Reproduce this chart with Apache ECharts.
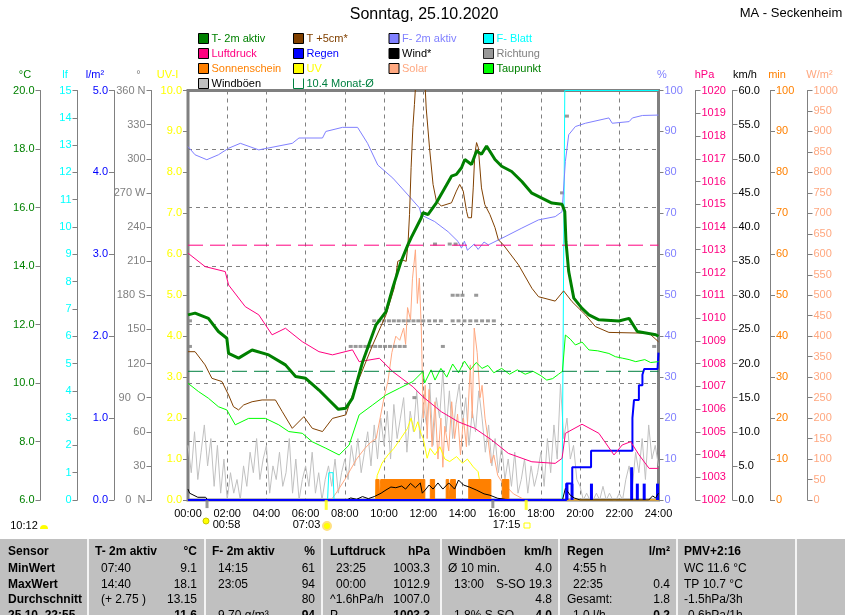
<!DOCTYPE html>
<html>
<head>
<meta charset="utf-8">
<script src="https://cdn.jsdelivr.net/npm/echarts@6.0.0/dist/echarts.min.js"></script>
<style>
html, body { margin: 0; padding: 0; background: #fff; }
#chart { width: 845px; height: 615px; }
</style>
</head>
<body>
<div id="chart"></div>
<script>
const t2m = [[0,12.33],[0.36,12.39],[1.04,12.21],[1.55,11.76],[1.98,11.53],[2.07,11.01],[2.58,10.85],[3.27,11.13],[4.12,10.96],[4.97,10.62],[5.49,10.22],[6.0,10.16],[6.68,9.76],[7.19,9.42],[7.67,9.1],[8.05,9.14],[8.39,9.48],[8.91,10.73],[9.59,11.99],[10.1,12.44],[10.45,13.27],[10.87,14.16],[11.22,14.73],[11.38,14.96],[11.9,15.65],[11.98,15.82],[12.24,15.76],[12.67,16.16],[13.1,16.67],[13.44,17.07],[13.69,17.13],[13.95,17.36],[14.12,17.64],[14.46,17.47],[14.72,17.93],[14.97,17.82],[15.23,18.1],[15.66,17.64],[16.0,17.41],[16.51,17.23],[17.03,16.89],[17.54,16.49],[18.05,16.32],[18.56,16.15],[19.08,16.11],[19.22,15.86],[19.28,14.83],[19.42,13.81],[19.68,12.9],[20.1,12.55],[20.45,12.33],[20.96,12.16],[21.98,12.12],[22.5,12.21],[22.92,11.76],[23.86,11.65],[24,11.6]];
const t5cm = [[0,11.07],[0.36,11.07],[0.87,10.62],[1.22,10.16],[1.73,10.05],[2.07,9.59],[2.32,9.19],[2.58,9.08],[2.84,9.25],[3.27,9.36],[3.78,9.42],[4.46,9.42],[4.81,9.02],[5.32,8.45],[5.91,8.85],[6.34,8.45],[6.86,8.34],[7.37,8.79],[8.05,8.91],[8.39,9.59],[9.42,11.3],[10.1,12.33],[10.53,13.27],[10.7,14.16],[10.87,14.22],[11.13,14.16],[11.22,14.73],[11.3,15.76],[11.38,17.36],[11.47,18.73],[11.55,19.52],[11.64,20.5],[12.07,20.5],[12.15,19.4],[12.32,18.04],[12.5,16.79],[12.67,16.22],[12.92,16.05],[13.44,16.16],[13.69,16.56],[13.86,16.79],[14.04,16.56],[14.21,15.87],[14.29,15.65],[14.46,15.65],[14.55,16.67],[14.63,17.82],[14.72,18.22],[14.81,18.04],[14.97,16.67],[15.14,16.1],[15.4,15.76],[15.66,15.31],[15.83,14.9],[16.09,14.72],[16.86,14.04],[17.54,13.24],[17.88,12.95],[18.73,12.8],[19.16,13.15],[19.59,12.78],[20.27,12.33],[20.78,11.93],[21.47,11.73],[23.52,11.7],[24,11.41]];
const humidity = [[0,86.3],[0.36,84.3],[0.96,83.1],[1.55,84.3],[2.07,85.9],[2.67,87.1],[3.61,85.5],[5.32,87.1],[5.66,88.4],[6.86,88.4],[7.03,90],[7.88,91],[8.65,91],[9.16,87.1],[9.68,81.8],[10.45,78.6],[11.22,74.5],[11.81,71.3],[11.9,69.6],[12.58,68],[13.27,65.5],[13.78,63.1],[13.95,61.5],[14.1,63.2],[14.25,61.0],[14.6,62.5],[14.8,61.2],[15.1,63.0],[15.32,62.3],[16.17,64.3],[17.03,66.4],[17.88,68.4],[18.73,69.2],[19.08,70.4],[19.25,82.7],[19.42,89.2],[19.76,91.2],[20.27,92],[21.47,93.3],[21.64,92],[22.5,92.4],[22.67,93.3],[23.18,93.9],[24,94]];
const dewPoint = [[0,9.99],[0.53,9.71],[1.04,9.48],[1.55,9.19],[1.98,9.08],[2.41,8.57],[3.09,8.79],[3.95,8.79],[4.63,8.57],[5.14,8.34],[5.83,8.28],[6.34,7.99],[7.03,7.77],[7.71,7.54],[8.22,7.88],[8.73,8.91],[9.42,9.25],[10.1,9.59],[10.78,9.82],[11.47,10.05],[11.98,10.39],[12.07,10.0],[12.4,10.45],[12.6,10.1],[12.9,10.5],[13.2,10.2],[13.5,10.65],[13.8,10.35],[14.1,10.75],[14.4,10.45],[14.7,10.7],[15.0,10.5],[15.3,10.6],[15.6,10.35],[16.0,10.5],[16.4,10.3],[16.8,10.45],[17.2,10.3],[17.6,10.4],[18.0,10.25],[18.3,10.1],[18.6,10.15],[18.9,10.3],[19.1,10.4],[19.25,11.64],[19.5,11.5],[19.76,11.3],[20.1,11.4],[20.45,11.13],[20.9,11.1],[21.47,11.01],[21.8,10.9],[22.15,10.85],[22.5,10.8],[22.84,10.73],[23.3,10.8],[23.6,10.7],[24,10.73]];
const pressure = [[0,1012.85],[0.87,1012.26],[1.9,1012.04],[2.07,1011.45],[2.92,1010.5],[3.61,1010.14],[4.29,1009.26],[4.97,1009.55],[5.83,1008.96],[6.68,1008.52],[7.37,1008.38],[8.39,1008.6],[8.73,1008.08],[9.76,1008.23],[10.45,1007.64],[11.47,1006.98],[11.98,1006.54],[12.92,1005.88],[13.78,1005.44],[14.63,1005.15],[15.49,1004.64],[16.34,1004.05],[17.54,1003.68],[18.73,1003.61],[19.08,1003.83],[19.25,1004.93],[20.1,1005.33],[20.96,1004.93],[21.73,1003.98],[22.15,1004.42],[22.58,1004.56],[23.01,1003.98],[23.52,1003.39],[24,1003.39]];
const solar = [[0,0],[7.3,0],[7.6,20],[8.0,50],[8.3,75],[8.6,100],[9.0,125],[9.3,140],[9.6,150],[9.8,200],[10.0,250],[10.2,290],[10.4,360],[10.6,400],[10.8,390],[11.0,420],[11.1,380],[11.2,470],[11.35,440],[11.45,540],[11.6,611],[11.7,480],[11.8,542],[11.9,420],[12.0,200],[12.1,280],[12.2,150],[12.3,270],[12.45,130],[12.6,240],[12.75,100],[12.9,200],[13.0,80],[13.1,180],[13.3,120],[13.45,240],[13.6,150],[13.75,210],[13.9,110],[14.05,200],[14.2,130],[14.4,330],[14.5,200],[14.6,420],[14.75,360],[14.9,250],[15.0,280],[15.15,200],[15.3,150],[15.45,90],[15.6,110],[15.8,60],[16.0,45],[16.3,30],[16.6,15],[17.0,5],[17.2,0],[24,0]];
const uvIndex = [[0,0],[9.55,0],[9.65,0.6],[9.9,0.9],[10.2,1.1],[10.5,1.26],[10.85,1.5],[11.2,1.75],[11.38,2.0],[11.55,1.67],[11.72,1.91],[11.9,1.6],[12.0,1.5],[12.2,1.02],[12.35,1.26],[12.6,1.1],[12.85,1.3],[13.1,1.0],[13.35,0.94],[13.7,1.06],[14.0,0.9],[14.25,1.0],[14.55,0.81],[14.8,0.69],[14.95,0.24],[15.05,0],[24,0]];
const leafWet = [[0,0],[7.12,0],[7.18,1],[7.4,1],[7.45,0],[19.08,0],[19.22,15],[24,15]];
const windAvg = [[0,1.6],[0.08,1.0],[0.5,0.4],[0.9,0.4],[1.0,0],[8.1,0],[8.3,0.3],[8.6,0.1],[8.9,0.5],[9.2,0.2],[9.5,0.5],[9.85,1.0],[10.1,1.47],[10.35,1.9],[10.6,1.8],[10.9,2.05],[11.1,1.6],[11.35,2.44],[11.6,1.8],[11.85,2.5],[11.95,1.0],[12.1,1.47],[12.3,2.2],[12.5,1.6],[12.75,2.5],[13.0,1.6],[13.3,2.5],[13.6,1.6],[13.8,2.93],[14.05,2.2],[14.35,1.9],[14.7,1.47],[15.1,0.9],[15.4,0.7],[15.8,0.25],[16.2,0.1],[16.7,0],[19.1,0],[19.25,1.7],[19.5,0.7],[19.7,0.3],[20.0,0],[23.5,0],[23.7,0.6],[23.85,0.3],[24,1.0]];
// Windböen alle 10 Minuten (km/h)
const gustKmh = [8,4,10,3,7,11, 5,9,2,8,1,6, 0,4,1,3,0,5, 2,7,4,9,3,6, 8,1,5,3,7,2, 4,9,1,6,0,3,
  5,2,7,1,4,0, 3,5,2,6,1,4, 6,3,8,5,9,4, 7,10,5,11,6,12, 8,13,6,14,9,12, 15,7,13,10,16,9,
  14,11,17,8,15,12, 19,10,16,9,14,17, 11,15,8,13,10,16, 12,7,11,5,9,4, 8,3,6,2,7,1, 3,6,1,5,2,4,
  7,2,9,4,11,6, 17,9,12,6,8,3, 2,0,1,0,0,1, 0,2,0,1,0,0, 1,0,3,5,2,7, 4,9,3,11,6,8, 5];
// Sonnenschein min je Intervall (Stufen)
const sunMin = [[0,0],[9.58,5],[9.75,0],[9.83,5],[12.08,0],[12.36,5],[12.58,0],[13.17,5],[13.3,0],[13.4,5],[13.64,0],[14.32,5],[15.45,0],[16.03,5],[16.37,0],[24,0]];
const rainBars = [[19.33,0.2],[19.59,0.2],[20.58,0.2],[22.63,0.4],[22.92,0.2],[23.27,0.2],[23.95,0.2]];
const rainSum = [[0,0],[19.3,0.2],[19.6,0.4],[20.56,0.6],[22.53,0.6],[22.67,1.0],[22.75,1.22],[23.0,1.4],[23.18,1.53],[23.27,1.6],[23.95,1.6],[24,1.8]];
const windDir = [[0.1,157.5],[0.1,135],[8.3,135],[8.55,135],[8.8,135],[9.05,135],[9.3,135],[9.55,135],[9.8,135],[10.05,135],[10.3,135],[10.55,135],[10.8,135],[11.05,135],
  [9.5,157.5],[9.75,157.5],[10.0,157.5],[10.25,157.5],[10.5,157.5],[10.75,157.5],[11.0,157.5],[11.25,157.5],[11.5,157.5],[11.75,157.5],[12.0,157.5],[12.3,157.5],[12.6,157.5],[12.9,157.5],[13.5,157.5],[13.8,157.5],[14.1,157.5],[14.4,157.5],[14.7,157.5],[15.0,157.5],[15.3,157.5],[15.6,157.5],
  [11.55,90],[12.6,225],[13.0,135],[13.35,225],[13.65,225],[13.5,180],[13.75,180],[14.0,180],[14.7,180],[19.08,270],[19.33,337.5],[23.78,135]];
const monthTemp = 10.4;
const monthPressure = 1013.2;
const sunMarks = [[7.05, -0.12], [17.25, -0.12]];   // Sonnenauf-/untergang
const moonMarks = [[0.97, -0.1], [15.55, -0.1]];
const dirNames = {0: '0  N', 90: '90  O', 180: '180 S', 270: '270 W', 360: '360 N'};

const tableRows = [
  ['Sensor', ['T- 2m aktiv', '°C'], ['F- 2m aktiv', '%'], ['Luftdruck', 'hPa'], ['Windböen', 'km/h'], ['Regen', 'l/m²'], ['PMV+2:16', '']],
  ['MinWert', ['07:40', '9.1'], ['14:15', '61'], ['23:25', '1003.3'], ['Ø 10 min.', '4.0'], ['4:55 h', ''], ['WC 11.6 °C', '']],
  ['MaxWert', ['14:40', '18.1'], ['23:05', '94'], ['00:00', '1012.9'], ['13:00', 'S-SO 19.3'], ['22:35', '0.4'], ['TP 10.7 °C', '']],
  ['Durchschnitt', ['(+ 2.75 )', '13.15'], ['', '80'], ['^1.6hPa/h', '1007.0'], ['', '4.8'], ['Gesamt:', '1.8'], ['-1.5hPa/3h', '']],
  ['25.10. 22:55', ['', '11.6'], ['9.70 g/m³', '94'], ['P', '1003.3'], ['1.8% S-SO', '4.0'], ['1.0 l/h', '0.2'], ['-0.6hPa/1h', '']]
];

const FONT = '"Liberation Sans", Arial, sans-serif';
const chart = echarts.init(document.getElementById('chart'));

function yAx(pos, off, min, max, iv, color, fmt) {
  return {
    type: 'value', position: pos, offset: off, min: min, max: max, interval: iv,
    axisLine: { show: true, onZero: false, lineStyle: { color: '#808080' } },
    axisTick: { show: true, length: 5, lineStyle: { color: '#808080' } },
    axisLabel: { color: color, fontSize: 11, fontFamily: FONT, margin: 6, formatter: fmt },
    splitLine: { show: false }
  };
}

function ln(name, yi, data, color, w, z) {
  return {
    type: 'line', name: name, yAxisIndex: yi, data: data, symbol: 'none',
    lineStyle: { color: color, width: w || 1 }, itemStyle: { color: color },
    z: z || 2, animation: false
  };
}

function legendItem(name, color, textColor) {
  return { name: name, icon: 'rect', itemStyle: { color: color, borderColor: '#000', borderWidth: 1 }, textStyle: { color: textColor || color } };
}

function legendCol(left, items) {
  return {
    left: left, top: 33, orient: 'vertical', padding: 0, itemWidth: 10, itemHeight: 10, itemGap: 4,
    selectedMode: false,
    textStyle: { fontSize: 11, fontFamily: FONT, lineHeight: 10, padding: [0, 0, 0, -2] },
    data: items
  };
}

const yAxes = [
  yAx('left', 147.5, 6, 20, 2, '#008000', v => v.toFixed(1)),
  yAx('left', 110.5, 0, 15, 1, '#00ffff', v => String(v)),
  yAx('left', 74, 0, 5, 1, '#0000ff', v => v.toFixed(1)),
  yAx('left', 36.5, 0, 360, 30, '#808080', v => dirNames[v] || String(v)),
  yAx('left', 0, 0, 10, 1, '#ffff00', v => v.toFixed(1)),
  yAx('right', 0, 0, 100, 10, '#8080ff', v => String(v)),
  yAx('right', 37, 1002, 1020, 1, '#ff0080', v => String(v)),
  yAx('right', 74, 0, 60, 5, '#000000', v => v.toFixed(1)),
  yAx('right', 111.5, 0, 100, 10, '#ff8000', v => String(v)),
  yAx('right', 149, 0, 1000, 50, '#ffa880', v => String(v))
];
yAxes[0].splitLine = { show: true, lineStyle: { color: '#808080', type: [4, 4], width: 1 } };

// Tabelle unten
const colX = [8, 95, 212, 330, 448, 567, 684];
const colR = [0, 197, 315, 430, 552, 670, 0];
const rowY = [552, 568.5, 584.5, 600, 616];
const graphics = [];
function txt(s, x, y, color, font, align) {
  graphics.push({ type: 'text', silent: true, style: { text: s, x: x, y: y, fill: color, font: font, textAlign: align || 'left', textVerticalAlign: 'middle' } });
}
graphics.push({ type: 'rect', silent: true, shape: { x: 0, y: 539, width: 845, height: 80 }, style: { fill: '#c0c0c0' } });
[87, 204, 321, 440, 558, 676, 795].forEach(x => {
  graphics.push({ type: 'rect', silent: true, shape: { x: x, y: 539, width: 2, height: 80 }, style: { fill: '#f4f4f4' } });
});
const fB = 'bold 12px ' + FONT, fN = '12px ' + FONT;
tableRows.forEach((row, r) => {
  txt(row[0], colX[0], rowY[r], '#000', fB);
  for (let c = 1; c < row.length; c++) {
    const left = row[c][0], right = row[c][1];
    const isHead = r === 0;
    const indent = (!isHead && /^[\d(]/.test(left)) ? 6 : 0;
    if (left) txt(left, colX[c] + indent, rowY[r], '#000', (isHead || r === 4 && c === 6 && false) ? fB : fN);
    if (right) txt(right, colR[c], rowY[r], '#000', (isHead || r === 4) ? fB : fN, 'right');
  }
});

// Titel, Achsennamen, Zeiten
txt('Sonntag, 25.10.2020', 424, 15, '#000', '16px ' + FONT, 'center');
txt('MA - Seckenheim', 791, 13, '#000', '13px ' + FONT, 'center');
[['°C', 25, '#008000'], ['lf', 65, '#00ffff'], ['l/m²', 95, '#0000ff'], ['°', 138.5, '#808080'], ['UV-I', 167.5, '#ffff00'],
 ['%', 662, '#8080ff'], ['hPa', 704.5, '#ff0080'], ['km/h', 745, '#000000'], ['min', 777, '#ff8000'], ['W/m²', 819.5, '#ffa880']]
  .forEach(a => txt(a[0], a[1], 75, a[2], '11px ' + FONT, 'center'));
txt('10:12', 24, 526, '#000', '11px ' + FONT, 'center');
txt('00:58', 226.5, 525, '#000', '11px ' + FONT, 'center');
txt('07:03', 306.5, 525, '#000', '11px ' + FONT, 'center');
txt('17:15', 506.5, 525, '#000', '11px ' + FONT, 'center');
graphics.push({ type: 'sector', silent: true, shape: { cx: 44, cy: 529, r0: 0, r: 4, startAngle: Math.PI, endAngle: 2 * Math.PI }, style: { fill: '#ffff00' } });
graphics.push({ type: 'circle', silent: true, shape: { cx: 206, cy: 521, r: 3 }, style: { fill: '#ffff00', stroke: '#c8c800' } });
graphics.push({ type: 'circle', silent: true, shape: { cx: 327, cy: 526, r: 4 }, style: { fill: '#ffff00', stroke: '#ffe080', lineWidth: 2 } });
graphics.push({ type: 'rect', silent: true, shape: { x: 524, y: 523, width: 6, height: 5 }, style: { fill: '#fff', stroke: '#ffff00' } });

const option = {
  backgroundColor: '#ffffff',
  animation: false,
  textStyle: { fontFamily: FONT },
  grid: { left: 188, right: 186.5, top: 90.5, bottom: 115, show: true, backgroundColor: '#ffffff', borderColor: '#808080', borderWidth: 3 },
  legend: [
    legendCol(198, [legendItem('T- 2m aktiv', '#008000'), legendItem('Luftdruck', '#ff0080'), legendItem('Sonnenschein', '#ff8000'), legendItem('Windböen', '#c0c0c0', '#000000')]),
    legendCol(293, [legendItem('T +5cm*', '#804000'), legendItem('Regen', '#0000ff'), legendItem('UV', '#ffff00'),
      { name: '10.4 Monat-Ø', icon: 'path://M0,0L0,10L10,10L10,0', itemStyle: { color: '#ffffff', borderColor: '#008040', borderWidth: 1 }, textStyle: { color: '#008040' } }]),
    legendCol(388.5, [legendItem('F- 2m aktiv', '#8080ff'), legendItem('Wind*', '#000000'), legendItem('Solar', '#ffa880')]),
    legendCol(483, [legendItem('F- Blatt', '#00ffff'), legendItem('Richtung', '#808080'), legendItem('Taupunkt', '#00ff00', '#008000')])
  ],
  xAxis: {
    type: 'value', min: 0, max: 24, interval: 2,
    axisLine: { show: true, lineStyle: { color: '#808080' } },
    axisTick: { show: false },
    axisLabel: { color: '#000', fontSize: 11, fontFamily: FONT, margin: 8, formatter: v => (v < 10 ? '0' : '') + v + ':00' },
    splitLine: { show: true, lineStyle: { color: '#808080', type: [4, 4], width: 1 } }
  },
  yAxis: yAxes,
  graphic: graphics,
  series: [
    ln('Windböen', 7, gustKmh.map((v, i) => [i / 6, v]), '#c0c0c0', 1, 1),
    ln('Solar', 9, solar, '#ffa880', 1, 2),
    ln('F- Blatt', 1, leafWet, '#00ffff', 1, 2),
    ln('UV', 4, uvIndex, '#ffff00', 1, 2),
    Object.assign(ln('Sonnenschein', 8, sunMin, '#ff8000', 1, 3), { step: 'end', areaStyle: { color: '#ff8000', opacity: 1 } }),
    ln('Wind*', 7, windAvg, '#000000', 1, 4),
    { type: 'bar', name: 'Regen', yAxisIndex: 2, data: rainBars, barWidth: 3, itemStyle: { color: '#0000ff' }, z: 4, animation: false },
    Object.assign(ln('Regen', 2, rainSum, '#0000ff', 2, 4), { step: 'end' }),
    { type: 'scatter', name: 'Richtung', yAxisIndex: 3, data: windDir, symbol: 'rect', symbolSize: [4, 3], itemStyle: { color: '#808080' }, z: 4, animation: false },
    ln('Luftdruck', 6, pressure, '#ff0080', 1, 5),
    ln('Taupunkt', 0, dewPoint, '#00ff00', 1, 5),
    ln('F- 2m aktiv', 5, humidity, '#8080ff', 1, 5),
    ln('T +5cm*', 0, t5cm, '#804000', 1, 6),
    ln('T- 2m aktiv', 0, t2m, '#008000', 3, 7),
    Object.assign(ln('10.4 Monat-Ø', 0, [[0, monthTemp], [24, monthTemp]], '#008040', 1, 6), { lineStyle: { color: '#008040', width: 1, type: [15, 7] } }),
    Object.assign(ln('Luftdruck Monat-Ø', 6, [[0, monthPressure], [24, monthPressure]], '#ff0080', 1, 6), { lineStyle: { color: '#ff0080', width: 1, type: [15, 7] } }),
    { type: 'scatter', name: 'Sonne', yAxisIndex: 4, data: sunMarks, symbol: 'rect', symbolSize: [3, 10], clip: false, itemStyle: { color: '#ffff00' }, z: 8, animation: false },
    { type: 'scatter', name: 'Mond', yAxisIndex: 4, data: moonMarks, symbol: 'rect', symbolSize: [3, 8], clip: false, itemStyle: { color: '#808080' }, z: 8, animation: false }
  ]
};
chart.setOption(option);
</script>
</body>
</html>
